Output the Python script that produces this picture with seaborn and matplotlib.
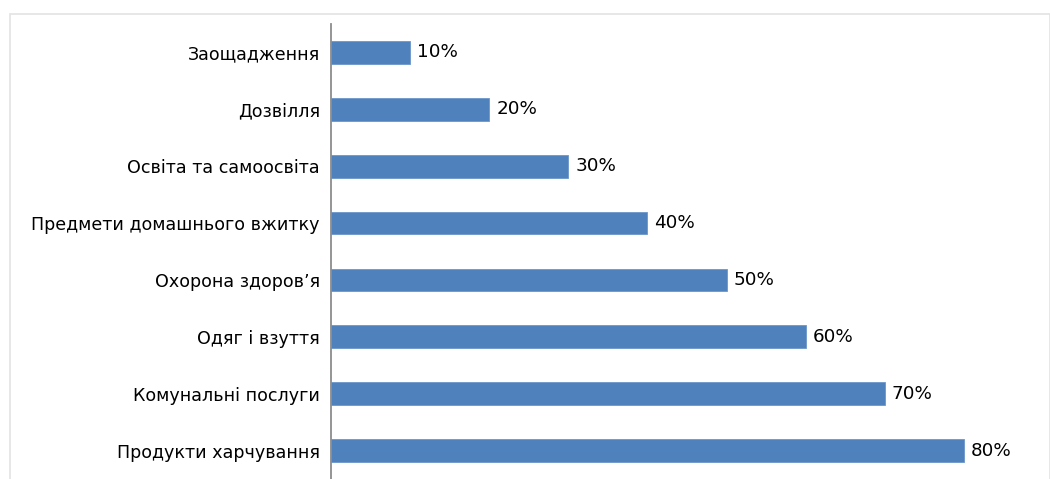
import matplotlib
matplotlib.use("Agg")
import matplotlib.pyplot as plt
import matplotlib.patches as mpatches
import seaborn as sns
import pandas as pd

categories = [
    "Заощадження",
    "Дозвілля",
    "Освіта та самоосвіта",
    "Предмети домашнього вжитку",
    "Охорона здоров’я",
    "Одяг і взуття",
    "Комунальні послуги",
    "Продукти харчування",
]
shares = [0.10, 0.20, 0.30, 0.40, 0.50, 0.60, 0.70, 0.80]

df = pd.DataFrame({"category": categories, "share": shares})

sns.set_theme(style="white")
plt.rcParams["font.family"] = ["DejaVu Sans"]

W, H = 1050, 479
fig = plt.figure(figsize=(W / 100, H / 100), dpi=100)

# light frame around the chart area
frame = mpatches.Rectangle((10 / W, -0.05), (W - 10.5) / W, 1.05 - 14 / H,
                           transform=fig.transFigure, fill=False,
                           edgecolor="#e3e3e3", linewidth=1.2, zorder=0)
fig.patches.append(frame)

ax = fig.add_axes([331 / W, 0, 712 / W, (H - 24) / H])
sns.barplot(data=df, x="share", y="category", order=categories,
            color="#4F81BD", saturation=1, width=0.4, ax=ax,
            edgecolor="#6b97cc", linewidth=0.6)

ax.set_xlim(0, 0.9)
ax.set_ylim(7.5, -0.5)
ax.set_xlabel("")
ax.set_ylabel("")
ax.set_xticks([])
for side in ["top", "right", "bottom"]:
    ax.spines[side].set_visible(False)
ax.spines["left"].set_color("#8c8c8c")
ax.spines["left"].set_linewidth(1.3)
ax.tick_params(axis="y", length=0, pad=8, labelsize=12.6, labelcolor="#000000")
ax.set_facecolor("none")

labels = [f"{round(v * 100)}%" for v in shares]
ax.bar_label(ax.containers[0], labels=labels, padding=5,
             fontsize=13.2, color="#000000")

fig.savefig("out.png", dpi=100)
